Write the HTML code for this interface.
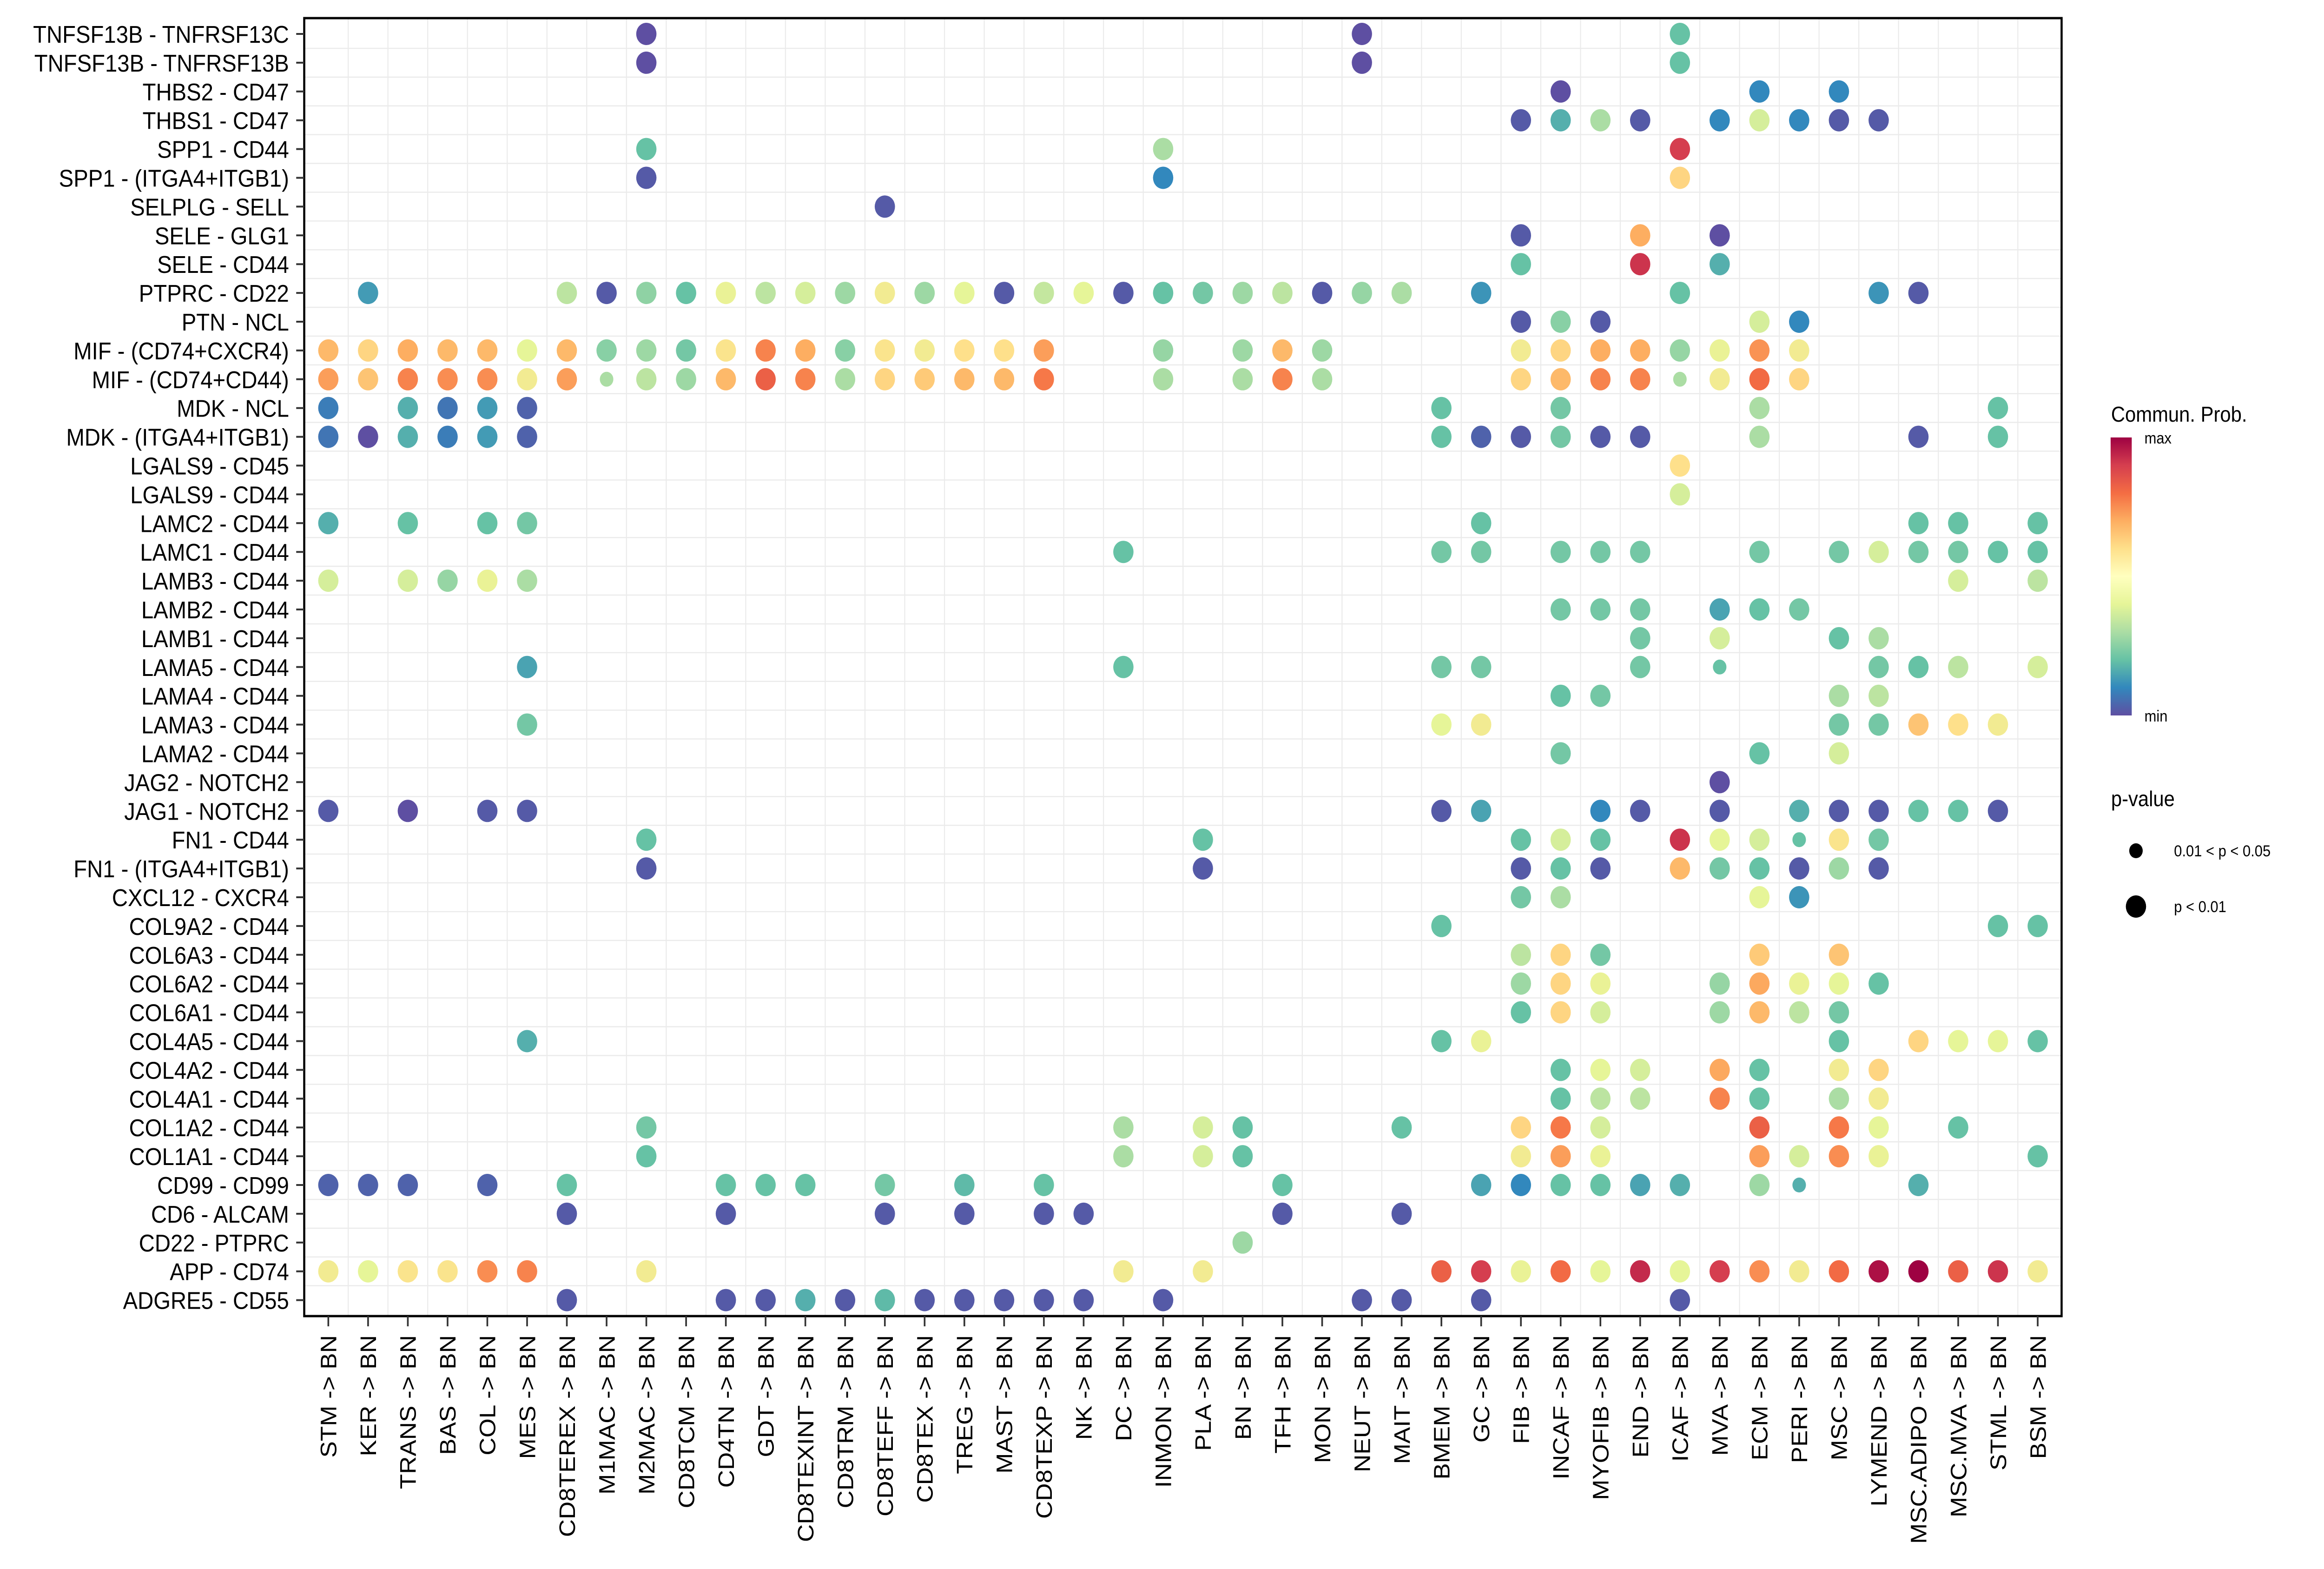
<!DOCTYPE html>
<html><head><meta charset="utf-8"><style>
html,body{margin:0;padding:0;background:#fff;width:100%;height:100%;overflow:hidden;}
svg{display:block;width:100vw;height:100vh;}
svg text{font-family:"Liberation Sans",sans-serif;}
</style></head><body>
<svg id="chart" xmlns="http://www.w3.org/2000/svg" viewBox="0 0 5500 3375" preserveAspectRatio="none">
<defs>
<linearGradient id="cbar" x1="0" y1="1" x2="0" y2="0">
<stop offset="0" stop-color="#5E4FA2"/><stop offset="0.1" stop-color="#3288BD"/><stop offset="0.2" stop-color="#66C2A5"/><stop offset="0.3" stop-color="#ABDDA4"/><stop offset="0.4" stop-color="#E6F598"/><stop offset="0.5" stop-color="#FFFFBF"/><stop offset="0.6" stop-color="#FEE08B"/><stop offset="0.7" stop-color="#FDAE61"/><stop offset="0.8" stop-color="#F46D43"/><stop offset="0.9" stop-color="#D53E4F"/><stop offset="1" stop-color="#9E0142"/>
</linearGradient>
</defs>
<g id="grid"></g>
<g id="dots"></g>
<rect x="720" y="39" width="4159" height="2792" fill="none" stroke="#000" stroke-width="5"/>
<g id="ylab"></g>
<g id="xlab"></g>
<g>
<text x="4996" y="907" font-size="46">Commun. Prob.</text>
<rect x="4995" y="941" width="50" height="598" fill="url(#cbar)"/>
<text x="5075" y="954" font-size="34">max</text>
<text x="5075" y="1552" font-size="34">min</text>
</g>
<g>
<text x="4996" y="1734" font-size="46">p-value</text>
<circle cx="5055" cy="1830" r="16" fill="#000"/>
<text x="5145" y="1842" font-size="34">0.01 &lt; p &lt; 0.05</text>
<circle cx="5055" cy="1950" r="24" fill="#000"/>
<text x="5145" y="1962" font-size="34">p &lt; 0.01</text>
</g>
</svg>
<script>
const rowLabels = ["TNFSF13B - TNFRSF13C","TNFSF13B - TNFRSF13B","THBS2 - CD47","THBS1 - CD47","SPP1 - CD44","SPP1 - (ITGA4+ITGB1)","SELPLG - SELL","SELE - GLG1","SELE - CD44","PTPRC - CD22","PTN - NCL","MIF - (CD74+CXCR4)","MIF - (CD74+CD44)","MDK - NCL","MDK - (ITGA4+ITGB1)","LGALS9 - CD45","LGALS9 - CD44","LAMC2 - CD44","LAMC1 - CD44","LAMB3 - CD44","LAMB2 - CD44","LAMB1 - CD44","LAMA5 - CD44","LAMA4 - CD44","LAMA3 - CD44","LAMA2 - CD44","JAG2 - NOTCH2","JAG1 - NOTCH2","FN1 - CD44","FN1 - (ITGA4+ITGB1)","CXCL12 - CXCR4","COL9A2 - CD44","COL6A3 - CD44","COL6A2 - CD44","COL6A1 - CD44","COL4A5 - CD44","COL4A2 - CD44","COL4A1 - CD44","COL1A2 - CD44","COL1A1 - CD44","CD99 - CD99","CD6 - ALCAM","CD22 - PTPRC","APP - CD74","ADGRE5 - CD55"];
const colLabels = ["STM","KER","TRANS","BAS","COL","MES","CD8TEREX","M1MAC","M2MAC","CD8TCM","CD4TN","GDT","CD8TEXINT","CD8TRM","CD8TEFF","CD8TEX","TREG","MAST","CD8TEXP","NK","DC","INMON","PLA","BN","TFH","MON","NEUT","MAIT","BMEM","GC","FIB","INCAF","MYOFIB","END","ICAF","MVA","ECM","PERI","MSC","LYMEND","MSC.ADIPO","MSC.MVA","STML","BSM"];
// each entry: [column index, communication prob (0..1 relative), significant p<0.01 (1) or not (0)]
const r0=[[8,0,1],[26,0,1],[34,0.3,1]];
const r1=[[8,0,1],[26,0,1],[34,0.3,1]];
const r2=[[31,0,1],[36,0.15,1],[38,0.15,1]];
const r3=[[30,0.03,1],[31,0.25,1],[32,0.4,1],[33,0.03,1],[35,0.15,1],[36,0.45,1],[37,0.15,1],[38,0.03,1],[39,0.03,1]];
const r4=[[8,0.3,1],[21,0.4,1],[34,0.88,1]];
const r5=[[8,0.03,1],[21,0.15,1],[34,0.55,1]];
const r6=[[14,0.03,1]];
const r7=[[30,0.03,1],[33,0.62,1],[35,0.0,1]];
const r8=[[30,0.3,1],[33,0.9,1],[35,0.25,1]];
const r9=[[1,0.2,1],[6,0.42,1],[7,0.03,1],[8,0.36,1],[9,0.3,1],[10,0.48,1],[11,0.42,1],[12,0.45,1],[13,0.38,1],[14,0.5,1],[15,0.38,1],[16,0.47,1],[17,0.03,1],[18,0.43,1],[19,0.47,1],[20,0.03,1],[21,0.3,1],[22,0.32,1],[23,0.38,1],[24,0.42,1],[25,0.03,1],[26,0.37,1],[27,0.4,1],[29,0.18,1],[34,0.3,1],[39,0.18,1],[40,0.03,1]];
const r10=[[30,0.03,1],[31,0.35,1],[32,0.03,1],[36,0.45,1],[37,0.15,1]];
const r11=[[0,0.6,1],[1,0.55,1],[2,0.62,1],[3,0.6,1],[4,0.6,1],[5,0.47,1],[6,0.6,1],[7,0.35,1],[8,0.38,1],[9,0.32,1],[10,0.52,1],[11,0.7,1],[12,0.62,1],[13,0.35,1],[14,0.52,1],[15,0.5,1],[16,0.53,1],[17,0.53,1],[18,0.65,1],[21,0.37,1],[23,0.38,1],[24,0.6,1],[25,0.38,1],[30,0.5,1],[31,0.55,1],[32,0.62,1],[33,0.62,1],[34,0.37,1],[35,0.48,1],[36,0.67,1],[37,0.5,1]];
const r12=[[0,0.65,1],[1,0.58,1],[2,0.7,1],[3,0.68,1],[4,0.68,1],[5,0.5,1],[6,0.65,1],[7,0.4,0],[8,0.42,1],[9,0.38,1],[10,0.6,1],[11,0.78,1],[12,0.7,1],[13,0.4,1],[14,0.55,1],[15,0.57,1],[16,0.6,1],[17,0.6,1],[18,0.72,1],[21,0.4,1],[23,0.4,1],[24,0.7,1],[25,0.4,1],[30,0.55,1],[31,0.6,1],[32,0.7,1],[33,0.7,1],[34,0.4,0],[35,0.5,1],[36,0.75,1],[37,0.55,1]];
const r13=[[0,0.12,1],[2,0.25,1],[3,0.1,1],[4,0.2,1],[5,0.05,1],[28,0.3,1],[31,0.32,1],[36,0.4,1],[42,0.3,1]];
const r14=[[0,0.1,1],[1,0.0,1],[2,0.25,1],[3,0.12,1],[4,0.2,1],[5,0.05,1],[28,0.3,1],[29,0.05,1],[30,0.03,1],[31,0.32,1],[32,0.03,1],[33,0.03,1],[36,0.4,1],[40,0.03,1],[42,0.3,1]];
const r15=[[34,0.53,1]];
const r16=[[34,0.45,1]];
const r17=[[0,0.25,1],[2,0.3,1],[4,0.3,1],[5,0.32,1],[29,0.3,1],[40,0.3,1],[41,0.3,1],[43,0.3,1]];
const r18=[[20,0.3,1],[28,0.32,1],[29,0.32,1],[31,0.32,1],[32,0.32,1],[33,0.32,1],[36,0.32,1],[38,0.32,1],[39,0.45,1],[40,0.32,1],[41,0.32,1],[42,0.3,1],[43,0.3,1]];
const r19=[[0,0.45,1],[2,0.45,1],[3,0.37,1],[4,0.48,1],[5,0.4,1],[41,0.45,1],[43,0.42,1]];
const r20=[[31,0.32,1],[32,0.32,1],[33,0.32,1],[35,0.22,1],[36,0.3,1],[37,0.32,1]];
const r21=[[33,0.32,1],[35,0.45,1],[38,0.3,1],[39,0.4,1]];
const r22=[[5,0.22,1],[20,0.3,1],[28,0.32,1],[29,0.32,1],[33,0.32,1],[35,0.3,0],[39,0.32,1],[40,0.3,1],[41,0.42,1],[43,0.45,1]];
const r23=[[31,0.3,1],[32,0.32,1],[38,0.4,1],[39,0.42,1]];
const r24=[[5,0.32,1],[28,0.47,1],[29,0.5,1],[38,0.32,1],[39,0.32,1],[40,0.58,1],[41,0.53,1],[42,0.5,1]];
const r25=[[31,0.32,1],[36,0.3,1],[38,0.45,1]];
const r26=[[35,0.0,1]];
const r27=[[0,0.03,1],[2,0.0,1],[4,0.03,1],[5,0.03,1],[28,0.03,1],[29,0.22,1],[32,0.15,1],[33,0.03,1],[35,0.03,1],[37,0.25,1],[38,0.03,1],[39,0.03,1],[40,0.3,1],[41,0.3,1],[42,0.03,1]];
const r28=[[8,0.3,1],[22,0.3,1],[30,0.3,1],[31,0.45,1],[32,0.3,1],[34,0.9,1],[35,0.47,1],[36,0.45,1],[37,0.3,0],[38,0.52,1],[39,0.32,1]];
const r29=[[8,0.03,1],[22,0.03,1],[30,0.03,1],[31,0.3,1],[32,0.03,1],[34,0.6,1],[35,0.32,1],[36,0.3,1],[37,0.03,1],[38,0.38,1],[39,0.03,1]];
const r30=[[30,0.32,1],[31,0.4,1],[36,0.47,1],[37,0.18,1]];
const r31=[[28,0.3,1],[42,0.3,1],[43,0.3,1]];
const r32=[[30,0.42,1],[31,0.55,1],[32,0.32,1],[36,0.57,1],[38,0.58,1]];
const r33=[[30,0.38,1],[31,0.55,1],[32,0.48,1],[35,0.37,1],[36,0.63,1],[37,0.48,1],[38,0.47,1],[39,0.3,1]];
const r34=[[30,0.3,1],[31,0.55,1],[32,0.45,1],[35,0.38,1],[36,0.6,1],[37,0.42,1],[38,0.32,1]];
const r35=[[5,0.25,1],[28,0.3,1],[29,0.48,1],[38,0.3,1],[40,0.55,1],[41,0.47,1],[42,0.47,1],[43,0.3,1]];
const r36=[[31,0.3,1],[32,0.47,1],[33,0.45,1],[35,0.63,1],[36,0.3,1],[38,0.5,1],[39,0.55,1]];
const r37=[[31,0.3,1],[32,0.42,1],[33,0.42,1],[35,0.7,1],[36,0.3,1],[38,0.4,1],[39,0.5,1]];
const r38=[[8,0.32,1],[20,0.4,1],[22,0.45,1],[23,0.3,1],[27,0.3,1],[30,0.55,1],[31,0.72,1],[32,0.45,1],[36,0.78,1],[38,0.72,1],[39,0.47,1],[41,0.3,1]];
const r39=[[8,0.3,1],[20,0.4,1],[22,0.45,1],[23,0.3,1],[30,0.5,1],[31,0.65,1],[32,0.48,1],[36,0.65,1],[37,0.45,1],[38,0.68,1],[39,0.48,1],[43,0.3,1]];
const r40=[[0,0.05,1],[1,0.05,1],[2,0.05,1],[4,0.05,1],[6,0.3,1],[10,0.3,1],[11,0.3,1],[12,0.3,1],[14,0.32,1],[16,0.28,1],[18,0.3,1],[24,0.3,1],[29,0.22,1],[30,0.15,1],[31,0.3,1],[32,0.3,1],[33,0.22,1],[34,0.25,1],[36,0.38,1],[37,0.25,0],[40,0.25,1]];
const r41=[[6,0.03,1],[10,0.03,1],[14,0.03,1],[16,0.03,1],[18,0.03,1],[19,0.03,1],[24,0.03,1],[27,0.03,1]];
const r42=[[23,0.38,1]];
const r43=[[0,0.5,1],[1,0.47,1],[2,0.52,1],[3,0.52,1],[4,0.68,1],[5,0.7,1],[8,0.5,1],[20,0.5,1],[22,0.5,1],[28,0.78,1],[29,0.88,1],[30,0.48,1],[31,0.75,1],[32,0.47,1],[33,0.92,1],[34,0.47,1],[35,0.88,1],[36,0.68,1],[37,0.5,1],[38,0.75,1],[39,0.97,1],[40,1.0,1],[41,0.78,1],[42,0.9,1],[43,0.5,1]];
const r44=[[6,0.03,1],[10,0.03,1],[11,0.03,1],[12,0.25,1],[13,0.03,1],[14,0.28,1],[15,0.03,1],[16,0.03,1],[17,0.03,1],[18,0.03,1],[19,0.03,1],[21,0.03,1],[26,0.03,1],[27,0.03,1],[29,0.03,1],[34,0.03,1]];
const rowData=[r0,r1,r2,r3,r4,r5,r6,r7,r8,r9,r10,r11,r12,r13,r14,r15,r16,r17,r18,r19,r20,r21,r22,r23,r24,r25,r26,r27,r28,r29,r30,r31,r32,r33,r34,r35,r36,r37,r38,r39,r40,r41,r42,r43,r44];

const NS="http://www.w3.org/2000/svg";
const X0=777, DX=94.08, Y0=73, DY=61.9;
function xPos(c){return X0+c*DX;}
function yPos(r){return Y0+r*DY;}
const stops=[[0,[94,79,162]],[0.15,[50,136,189]],[0.3,[102,194,165]],[0.4,[171,221,164]],[0.47,[230,245,152]],[0.53,[254,224,139]],[0.62,[253,174,97]],[0.74,[244,109,67]],[0.88,[213,62,79]],[1,[158,1,66]]];
function color(v){
  for(let i=1;i<stops.length;i++){
    if(v<=stops[i][0]){const a=stops[i-1],b=stops[i];const t=(v-a[0])/(b[0]-a[0]);
      const c=a[1].map((x,k)=>Math.round(x+(b[1][k]-x)*t));return `rgb(${c[0]},${c[1]},${c[2]})`;}
  }
  return "rgb(158,1,66)";
}
function mk(tag,attrs,parent){const e=document.createElementNS(NS,tag);for(const k in attrs)e.setAttribute(k,attrs[k]);parent.appendChild(e);return e;}
const grid=document.getElementById('grid');
for(let c=0;c<colLabels.length-1;c++){
  const l=mk('line',{x1:xPos(c+0.5),x2:xPos(c+0.5),y1:39,y2:2831,stroke:'#ebebeb','stroke-width':2.5},grid);
  
  
}
for(let r=0;r<rowLabels.length-1;r++){
  const l=mk('line',{x1:720,x2:4879,y1:yPos(r+0.5),y2:yPos(r+0.5),stroke:'#ebebeb','stroke-width':2.5},grid);
  
  
}
const dots=document.getElementById('dots');
rowData.forEach((row,ri)=>{
  row.forEach(d=>{
    const c=mk('circle',{cx:xPos(d[0]),cy:yPos(ri),r:d[2]?24:16,fill:color(d[1])},dots);
    
    
  });
});
const yl=document.getElementById('ylab');
rowLabels.forEach((t,i)=>{
  const tk=mk('line',{x1:701,x2:720,y1:yPos(i),y2:yPos(i),stroke:'#333','stroke-width':4},yl);
  
  
  const e=mk('text',{x:684,y:yPos(i)+19,'font-size':52,'text-anchor':'end'},yl);
  e.textContent=t;
  
  
});
const xl=document.getElementById('xlab');
colLabels.forEach((t,i)=>{
  const tk=mk('line',{x1:xPos(i),x2:xPos(i),y1:2831,y2:2853,stroke:'#333','stroke-width':4},xl);
  
  
  const e=mk('text',{x:0,y:0,'font-size':53,'text-anchor':'end',transform:`translate(${xPos(i)+19},2872) rotate(-90)`},xl);
  e.textContent=t+" -> BN";
  
  
});
</script>
</body></html>
